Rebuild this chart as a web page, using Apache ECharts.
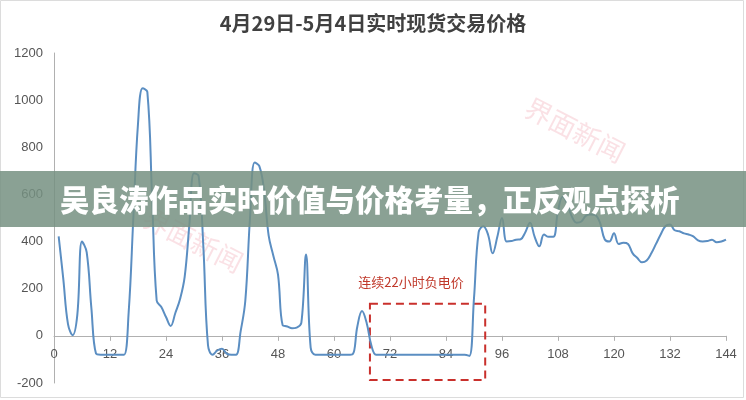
<!DOCTYPE html>
<html>
<head>
<meta charset="utf-8">
<script src="https://cdn.jsdelivr.net/npm/echarts@6/dist/echarts.min.js"></script>
<style>
html,body{margin:0;padding:0;background:#fff;}
#chart{width:746px;height:400px;}
</style>
</head>
<body>
<div id="chart"></div>
<script>
var titleText = '4月29日-5月4日实时现货交易价格';
var bannerText = '吴良涛作品实时价值与价格考量，正反观点探析';
var noteText = '连续22小时负电价';
var watermarkText = '界面新闻';

var hours = [];
for (var h = 1; h <= 144; h++) hours.push(h);

var prices = [
  422, 240, 50, 3, 90, 400, 355, 120, -75, -80,
  -80, -80, -80, -80, -80, 100, 500, 900, 1050, 1035,
  600, 150, 122, 80, 42, 97, 155, 250, 470, 690,
  678, 380, -40, -80, -62, -55, -75, -80, -80, 20,
  150, 500, 735, 720, 620, 425, 340, 260, 45, 40,
  32, 35, 55, 345, -50, -80, -80, -80, -80, -80,
  -80, -80, -80, -78, 40, 105, 55, -40, -80, -80,
  -80, -80, -80, -80, -80, -80, -80, -80, -80, -80,
  -80, -80, -80, -80, -80, -80, -80, -80, -85, 160,
  440, 465, 430, 350, 420, 500, 400, 402, 408, 410,
  440, 480, 420, 380, 430, 420, 420, 530, 590, 560,
  505, 480, 485, 510, 515, 512, 480, 410, 400, 435,
  390, 395, 390, 350, 330, 312, 320, 350, 390, 430,
  465, 472, 448, 444, 435, 430, 422, 405, 400, 402,
  408, 397, 400, 408
];

var xTicks = [0, 12, 24, 36, 48, 60, 72, 84, 96, 108, 120, 132, 144];
var yTicks = [-200, 0, 200, 400, 600, 800, 1000, 1200];
var negBox = { x0: 67.7, x1: 92.4, y0: -187, y1: 136 };

var data = hours.map(function (h, i) { return [h, prices[i]]; });

var gridTop = 53, gridBottom = 17, chartH = 400;
var yMin = yTicks[0], yMax = yTicks[yTicks.length - 1];
var plotH = chartH - gridTop - gridBottom;
var zeroOffset = -plotH * (0 - yMin) / (yMax - yMin);

var chart = echarts.init(document.getElementById('chart'), null, { renderer: 'canvas' });
chart.setOption({
  backgroundColor: '#ffffff',
  animation: false,
  title: {
    text: titleText,
    left: 'center',
    top: 8,
    textStyle: { fontFamily: 'Noto Sans CJK SC', fontSize: 20, fontWeight: 'bold', color: '#404040' }
  },
  grid: { left: 54, right: 20, top: gridTop, bottom: gridBottom, containLabel: false, outerBoundsMode: 'none' },
  xAxis: {
    type: 'value',
    position: 'bottom',
    offset: zeroOffset,
    min: xTicks[0],
    max: xTicks[xTicks.length - 1],
    interval: 12,
    axisLine: { onZero: false, lineStyle: { color: '#b0b0b0', width: 1 } },
    axisTick: { show: true, length: 5, lineStyle: { color: '#b0b0b0' } },
    axisLabel: { margin: 12, fontFamily: 'Liberation Sans', fontSize: 13, color: '#555',
      formatter: function (v) { return String(v); } },
    splitLine: { show: false }
  },
  yAxis: {
    type: 'value',
    min: yMin,
    max: yMax,
    interval: 200,
    axisLine: { show: true, lineStyle: { color: '#b0b0b0', width: 1 } },
    axisTick: { show: false },
    axisLabel: { margin: 11, fontFamily: 'Liberation Sans', fontSize: 13, color: '#555',
      formatter: function (v) { return String(v); } },
    splitLine: { show: false }
  },
  series: [{
    type: 'line',
    data: data,
    smooth: 0.4,
    showSymbol: false,
    symbol: 'none',
    lineStyle: { color: '#5b8ec2', width: 2 },
    z: 5,
    markArea: {
      silent: true,
      itemStyle: {
        color: 'rgba(0,0,0,0)',
        borderColor: '#c9302c',
        borderWidth: 2,
        borderType: [8, 5]
      },
      data: [[{ coord: [negBox.x0, negBox.y1] }, { coord: [negBox.x1, negBox.y0] }]]
    }
  }],
  graphic: [
    {
      type: 'rect', silent: true, z: -10,
      shape: { x: 0.5, y: 0.5, width: 743, height: 397 },
      style: { fill: 'rgba(0,0,0,0)', stroke: '#dcdcdc', lineWidth: 1 }
    },
    {
      type: 'text', silent: true, z: 0,
      x: 575, y: 130, rotation: -0.47,
      style: { text: watermarkText, fontFamily: 'Noto Sans CJK SC', fontSize: 27, fill: 'rgba(225,90,110,0.18)', textAlign: 'center', textVerticalAlign: 'middle' }
    },
    {
      type: 'text', silent: true, z: 0,
      x: 193, y: 240, rotation: -0.47,
      style: { text: watermarkText, fontFamily: 'Noto Sans CJK SC', fontSize: 27, fill: 'rgba(225,90,110,0.18)', textAlign: 'center', textVerticalAlign: 'middle' }
    },
    {
      type: 'text', silent: true, z: 50,
      x: 411, y: 282,
      style: { text: noteText, fontFamily: 'Noto Sans CJK SC', fontSize: 13, fill: '#c0392b', textAlign: 'center', textVerticalAlign: 'middle' }
    },
    {
      type: 'rect', silent: true, z: 100,
      shape: { x: 0, y: 171, width: 746, height: 56 },
      style: { fill: 'rgba(117,144,129,0.85)' }
    },
    {
      type: 'text', silent: true, z: 101,
      x: 60, y: 200,
      style: { text: bannerText, fontFamily: 'Noto Sans CJK SC', fontSize: 29.5, fontWeight: 900, fill: '#ffffff', textAlign: 'left', textVerticalAlign: 'middle' }
    }
  ]
});
</script>
</body>
</html>
